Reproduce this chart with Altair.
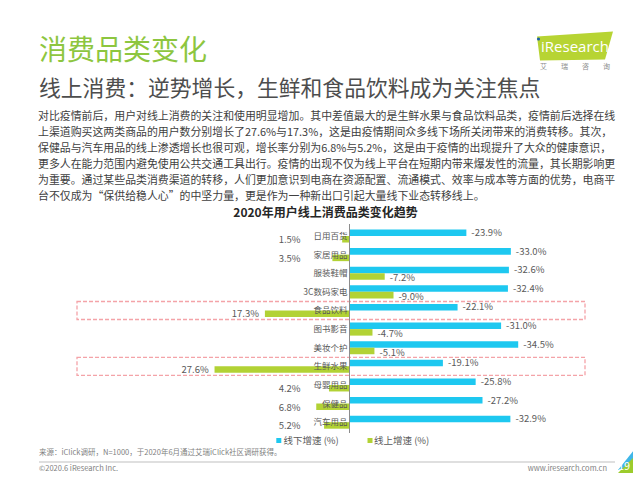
import altair as alt
import pandas as pd

# ---------------- data ----------------
categories = ["日用百货", "家居用品", "服装鞋帽", "3C数码家电", "食品饮料", "图书影音",
              "美妆个护", "生鲜水果", "母婴用品", "保健品", "汽车用品"]
offline = [-23.9, -33.0, -32.6, -32.4, -22.1, -31.0, -34.5, -19.1, -25.8, -27.2, -32.9]
online = [1.5, 3.5, -7.2, -9.0, 17.3, -4.7, -5.1, 27.6, 4.2, 6.8, 5.2]
series = ["线下增速 (%)", "线上增速  (%)"]
highlight = ["食品饮料", "生鲜水果"]

title_text = "消费品类变化"
subtitle_text = "线上消费：逆势增长，生鲜和食品饮料成为关注焦点"
paragraph = [
    "对比疫情前后，用户对线上消费的关注和使用明显增加。其中差值最大的是生鲜水果与食品饮料品类，疫情前后选择在线",
    "上渠道购买这两类商品的用户数分别增长了27.6%与17.3%，这是由疫情期间众多线下场所关闭带来的消费转移。其次，",
    "保健品与汽车用品的线上渗透增长也很可观，增长率分别为6.8%与5.2%，这是由于疫情的出现提升了大众的健康意识，",
    "更多人在能力范围内避免使用公共交通工具出行。疫情的出现不仅为线上平台在短期内带来爆发性的流量，其长期影响更",
    "为重要。通过某些品类消费渠道的转移，人们更加意识到电商在资源配置、流通模式、效率与成本等方面的优势，电商平",
    "台不仅成为“保供给稳人心”的中坚力量，更是作为一种新出口引起大量线下业态转移线上。",
]
chart_title = "2020年用户线上消费品类变化趋势"
source_text = "来源：iClick调研，N=1000，于2020年6月通过艾瑞iClick社区调研获得。"
copyright_text = "©2020.6 iResearch Inc."
url_text = "www.iresearch.com.cn"
page_no = "19"

rows = []
for c, a, b in zip(categories, offline, online):
    rows.append({"category": c, "series": series[0], "value": a})
    rows.append({"category": c, "series": series[1], "value": b})
df = pd.DataFrame(rows)
hl = pd.DataFrame({"category": highlight})
one = pd.DataFrame({"k": [0]})

FONT = "Noto Sans CJK SC"
BLUE = "#1ec8f0"
GREEN = "#b2d235"
GRAY = "#595959"

xscale = alt.Scale(domain=[30, -40], range=[194.8, 537.1], nice=False, zero=False)
yscale = alt.Scale(domain=categories, range=[218.7, 423.5], paddingInner=0.3, paddingOuter=0.15)
X = lambda f: alt.X(f, scale=xscale, axis=None)
Y = alt.Y("category:N", scale=yscale, axis=None, sort=categories)

boxes = alt.Chart(hl).mark_bar(height=18, fill=None, stroke="#f4a3a8", strokeWidth=1.3,
                               strokeDash=[4, 2]).encode(
    x=alt.value(69), x2=alt.value(577), y=Y)

bars = alt.Chart(df).mark_bar().encode(
    x=X("value:Q"), y=Y,
    yOffset=alt.YOffset("series:N", scale=alt.Scale(domain=series, paddingInner=0), sort=series),
    color=alt.Color("series:N", scale=alt.Scale(domain=series, range=[BLUE, GREEN]), legend=None),
)

label_base = alt.Chart(df).transform_calculate(
    lab="replace(format(datum.value, '.1f'), '\u2212', '-') + '%'")

off_labels = label_base.transform_filter(alt.datum.series == series[0]).mark_text(
    align="left", baseline="middle", dx=5, dy=-3, font=FONT, fontSize=9.5, color=GRAY
).encode(x=X("value:Q"), y=Y, text="lab:N")

on_neg = label_base.transform_filter(
    (alt.datum.series == series[1]) & (alt.datum.value < 0)).mark_text(
    align="left", baseline="middle", dx=5, dy=5, font=FONT, fontSize=9.5, color=GRAY
).encode(x=X("value:Q"), y=Y, text="lab:N")

on_pos = label_base.transform_filter(
    (alt.datum.series == series[1]) & (alt.datum.value >= 0)).transform_calculate(
    pos="max(datum.value + 1.2, 10)").mark_text(
    align="right", baseline="middle", dy=4, font=FONT, fontSize=9.5, color=GRAY
).encode(x=X("pos:Q"), y=Y, text="lab:N")

cat_labels = alt.Chart(pd.DataFrame({"category": categories})).mark_text(
    align="right", baseline="middle", font=FONT, fontSize=8.5, color=GRAY
).encode(x=alt.value(339.5), y=Y, text="category:N")

axis_rule = alt.Chart(one).mark_rule(color="#8c8c8c", strokeWidth=1).encode(
    x=X("z:Q"), y=alt.value(216), y2=alt.value(425)).transform_calculate(z="0")


def deco():
    return alt.Chart(one)


def text(t, x, y, size, color=GRAY, align="left", weight="normal", font=FONT, **kw):
    return deco().mark_text(align=align, baseline="middle", fontSize=size, color=color,
                            fontWeight=weight, font=font, **kw).encode(
        x=alt.value(x), y=alt.value(y), text=alt.value(t))


title = text(title_text, 31, 44, 28, color="#8dc63f")
subtitle = text(subtitle_text, 31, 81, 21.8, color="#4d4d4d")
para = text("\n".join(paragraph), 30, 109, 10.9, color="#404040", lineBreak="\n", lineHeight=16)
ctitle = text(chart_title, 317.5, 205, 12, color="#262626", align="center", weight="bold")

leg_sq = deco().mark_square(size=25, opacity=1).encode(
    x=alt.value(270.8), y=alt.value(432.5), color=alt.value(BLUE))
leg_sq2 = deco().mark_square(size=25, opacity=1).encode(
    x=alt.value(362), y=alt.value(432.5), color=alt.value(GREEN))
leg_t1 = text(series[0], 275.5, 432.5, 9.5)
leg_t2 = text(series[1], 366, 432.5, 9.5)

src = text(source_text, 31, 445, 7.5, color="#7f7f7f")
foot_line = deco().mark_rule(color="#bfbfbf", strokeWidth=1).encode(
    x=alt.value(31), x2=alt.value(607), y=alt.value(454))
copy_t = text(copyright_text, 31, 460.5, 7.5, color="#7f7f7f")
url_t = text(url_text, 599, 460.5, 7.5, color="#7f7f7f", align="right")

corner_blue = deco().mark_point(shape="M-0.2,0.5L1,-1L1,-0.45L0.2,0.5Z", size=1600, filled=True,
                                opacity=1, color="#3fb6e8").encode(x=alt.value(614), y=alt.value(452))
corner = deco().mark_point(shape="M-1,1L1,1L1,-1Z", size=961, filled=True, opacity=1,
                           color="#9ccc2c").encode(x=alt.value(617.5), y=alt.value(457.5))
pg = text(page_no, 616, 458.5, 11, color="white", align="center")

logo = deco().mark_point(shape="M-0.95,-0.26L0.95,-0.39L0.75,0.31L-0.875,0.34Z", size=6400,
                         filled=True, opacity=1, color="#b7d433").encode(
    x=alt.value(567), y=alt.value(39))
logo_t = text("iResearch", 567, 38.5, 15, color="white", align="center", font="Open Sans")
logo_dot = deco().mark_circle(size=10, opacity=1, color="#1a5fa8").encode(
    x=alt.value(530.5), y=alt.value(31))
logo_cn = text("艾\u2003\u2003瑞\u2003\u2003咨\u2003\u2003询", 567, 59, 7, color="#8c8c8c", align="center")

chart = alt.layer(
    boxes, bars, off_labels, on_neg, on_pos, cat_labels, axis_rule,
    title, subtitle, para, ctitle, leg_sq, leg_sq2, leg_t1, leg_t2,
    src, foot_line, copy_t, url_t, corner_blue, corner, pg,
    logo, logo_t, logo_dot, logo_cn,
).properties(
    width=625, height=465, padding=0, background="white",
    autosize=alt.AutoSizeParams(type="none"),
).configure_view(stroke=None)

chart.save("out.html", embed_options={"renderer": "svg", "actions": False})
